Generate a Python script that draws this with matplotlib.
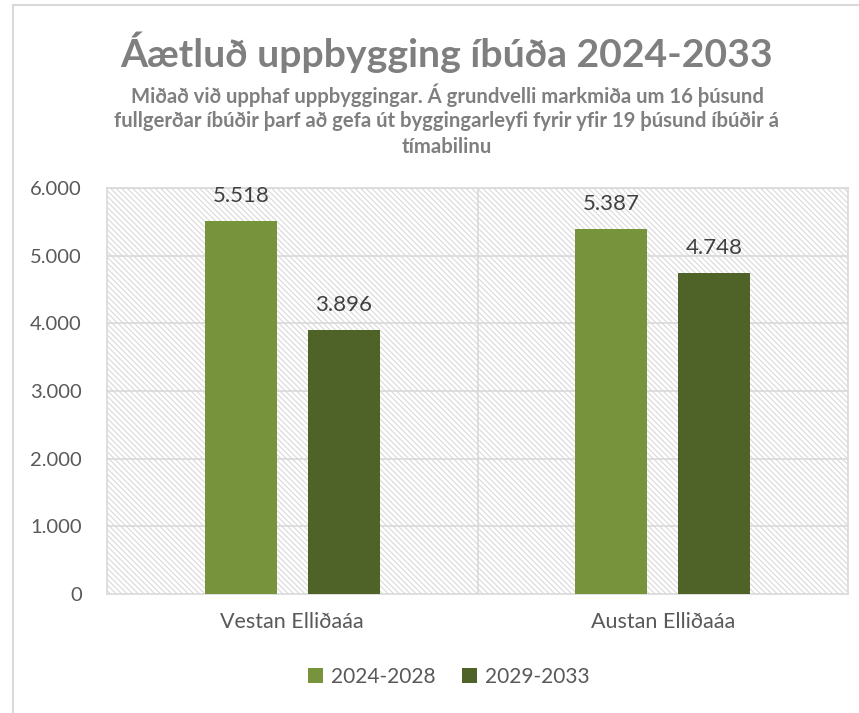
import matplotlib
matplotlib.use("Agg")
import matplotlib.pyplot as plt
from matplotlib.patches import Rectangle
from matplotlib.lines import Line2D
import numpy as np

plt.rcParams['font.family'] = ['Lato', 'DejaVu Sans']
plt.rcParams['hatch.linewidth'] = 0.8

# data
categories = ["Vestan Elliðaáa", "Austan Elliðaáa"]
series_names = ["2024-2028", "2029-2033"]
vals_2024_2028 = [5518, 5387]
vals_2029_2033 = [3896, 4748]
yticks = [0, 1000, 2000, 3000, 4000, 5000, 6000]
ytick_labels = ["0", "1.000", "2.000", "3.000", "4.000", "5.000", "6.000"]

colours = ["#77933C", "#4F6228"]
grid_col = "#D9D9D9"
txt_col = "#595959"

fig = plt.figure(figsize=(8.59, 7.13), dpi=100, facecolor='w')
ax = fig.add_axes([107/859, 1-594/713, 741/859, 406/713])

# outer chart border (only left and top visible)
fig.add_artist(Line2D([13/859, 13/859], [0, 1-5/713], transform=fig.transFigure, color=grid_col, lw=1.5))
fig.add_artist(Line2D([13/859, 1], [1-5/713, 1-5/713], transform=fig.transFigure, color=grid_col, lw=1.5))

# hatched plot area
ax.add_patch(Rectangle((0, 0), 1, 1, transform=ax.transAxes, facecolor='white',
                       edgecolor=grid_col, hatch='\\' * 6, lw=0, zorder=0))

x = np.arange(len(categories))
w = 0.194
off = 0.139
for i, (vals, name) in enumerate(zip([vals_2024_2028, vals_2029_2033], series_names)):
    pos = x + (-off if i == 0 else off)
    ax.bar(pos, vals, width=w, color=colours[i], label=name, zorder=3)
    for p, v in zip(pos, vals):
        ax.text(p, v + 370, f"{v:,}".replace(",", "."), ha='center', va='center',
                fontsize=16, color='#404040', zorder=4)

ax.set_xlim(-0.5, 1.5)
ax.set_ylim(0, 6000)
ax.set_yticks(yticks)
ax.set_yticklabels(ytick_labels)
ax.set_xticks(x)
ax.set_xticklabels(categories)
ax.tick_params(axis='both', length=0, labelsize=14.5, colors=txt_col)
ax.tick_params(axis='x', labelsize=15.5, pad=13)
ax.tick_params(axis='y', pad=18)

for yv in yticks[1:]:
    ax.axhline(yv, color=grid_col, lw=1.2, zorder=1)
ax.axvline(0.5, color=grid_col, lw=1.2, zorder=1)
for s in ax.spines.values():
    s.set_color(grid_col)
    s.set_linewidth(1.2)

# titles
fig.text(447/859, 1-52/713, "Áætluð uppbygging íbúða 2024-2033", ha='center', va='center',
         fontsize=28.2, fontweight='bold', color='#7F7F7F')
sub = ["Miðað við upphaf uppbyggingar. Á grundvelli markmiða um 16 þúsund",
       "fullgerðar íbúðir þarf að gefa út byggingarleyfi fyrir yfir 19 þúsund íbúðir á",
       "tímabilinu"]
for k, line in enumerate(sub):
    fig.text(447/859, 1-(95 + 26*k)/713, line, ha='center', va='center',
             fontsize=14.6, fontweight='bold', color='#7F7F7F')

leg = fig.legend(loc='center', bbox_to_anchor=(449/859, 1-677/713), ncol=2, frameon=False,
                 fontsize=15, handlelength=0.7, handleheight=0.7, handletextpad=0.4,
                 columnspacing=1.3, labelcolor=txt_col)

fig.savefig("out.png", dpi=100)
